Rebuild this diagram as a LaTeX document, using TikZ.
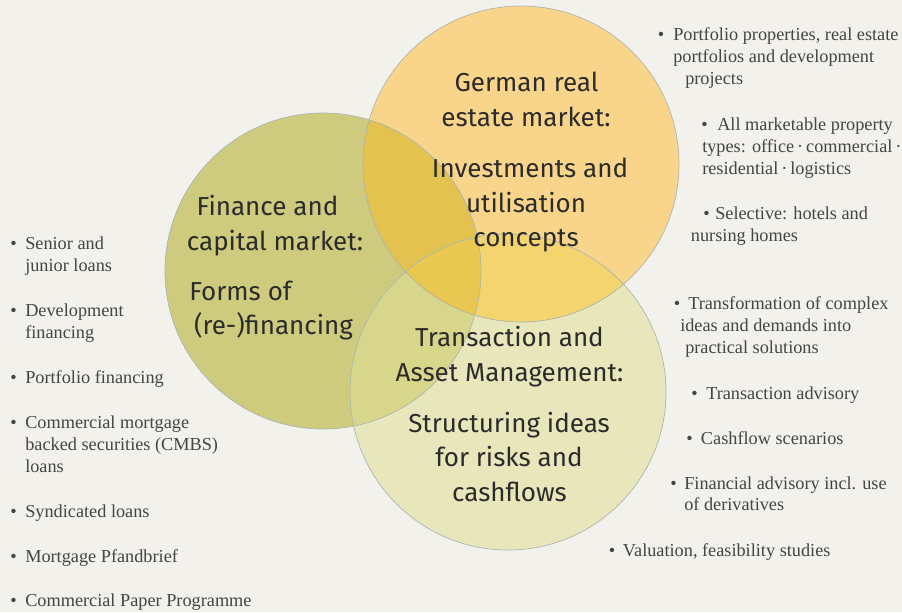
\documentclass[tikz,border=0pt]{standalone}
\usepackage{fontspec}
\setmainfont{Liberation Serif}
\newfontfamily\circfont{Fira Sans}
\definecolor{bg}{HTML}{F3F1EB}
\definecolor{cL}{HTML}{CFCB7E}
\definecolor{cT}{HTML}{F8D58A}
\definecolor{cB}{HTML}{E8E7BC}
\definecolor{cLT}{HTML}{E4C250}
\definecolor{cTB}{HTML}{F3D46E}
\definecolor{cLB}{HTML}{D8D68A}
\definecolor{cLTB}{HTML}{E8C850}
\definecolor{rim}{HTML}{A9B4B1}
\definecolor{ctext}{HTML}{2B2B2B}
\definecolor{btext}{HTML}{444444}
\newcommand{\mdotsep}{\kern2.2pt·\kern2.2pt}
\tikzset{
  ctxt/.style={inner sep=0pt, anchor=base, text=ctext, font=\circfont\fontsize{19.5pt}{23pt}\selectfont},
  btxt/.style={inner sep=0pt, anchor=base west, text=btext, font=\fontsize{13.7pt}{16.5pt}\selectfont},
  rimline/.style={draw=rim, line width=0.5pt}
}
\begin{document}
\begin{tikzpicture}[x=0.75pt,y=-0.75pt]
\fill[bg] (0,0) rectangle (902,612);
\path[use as bounding box] (0,0) rectangle (902,612);
% circles
\def\Lc{(323,271) circle[radius=158]}
\def\Tc{(521,164) circle[radius=158]}
\def\Bc{(508,392) circle[radius=158]}
\fill[cL] \Lc;
\fill[cT] \Tc;
\fill[cB] \Bc;
\begin{scope}\clip \Lc; \fill[cLT] \Tc; \end{scope}
\begin{scope}\clip \Lc; \fill[cLB] \Bc; \end{scope}
\begin{scope}\clip \Tc; \fill[cTB] \Bc; \end{scope}
\begin{scope}\clip \Lc; \clip \Tc; \fill[cLTB] \Bc; \end{scope}
\draw[rimline] \Lc;
\draw[rimline] \Tc;
\draw[rimline] \Bc;
% left circle text
\node[ctxt] (f1) at (267.5,215) {Finance and};
\node[ctxt] (f2) at (275,250) {capital market:};
\node[ctxt] (f3) at (240.5,300.5) {Forms of};
\node[ctxt] (f4) at (273.5,334) {(re-)financing};
% top circle text
\node[ctxt] (g1) at (526.5,91.5) {German real};
\node[ctxt] (g2) at (526,126) {estate market:};
\node[ctxt] (g3) at (530,177.5) {Investments and};
\node[ctxt] (g4) at (526,212.5) {utilisation};
\node[ctxt] (g5) at (526,246) {concepts};
% bottom circle text
\node[ctxt] (t1) at (509.5,346.5) {Transaction and};
\node[ctxt] (t2) at (509.5,381.5) {Asset Management:};
\node[ctxt] (t3) at (509,432.5) {Structuring ideas};
\node[ctxt] (t4) at (509,466.5) {for risks and};
\node[ctxt] (t5) at (509.5,501.5) {cashflows};
% left bullets
\node[btxt] (a1) at (10,249.3) {•};
\node[btxt] (a1a) at (25,249.3) {Senior and};
\node[btxt] (a1b) at (25,271) {junior loans};
\node[btxt] (a2) at (10,316.7) {•};
\node[btxt] (a2a) at (25,316.7) {Development};
\node[btxt] (a2b) at (25,338.3) {financing};
\node[btxt] (a3) at (10,383.3) {•};
\node[btxt] (a3a) at (25,383.3) {Portfolio financing};
\node[btxt] (a4) at (10,428.3) {•};
\node[btxt] (a4a) at (25,428.3) {Commercial mortgage};
\node[btxt] (a4b) at (25,450) {backed securities (CMBS)};
\node[btxt] (a4c) at (25,472.3) {loans};
\node[btxt] (a5) at (10,517.7) {•};
\node[btxt] (a5a) at (25,517.7) {Syndicated loans};
\node[btxt] (a6) at (10,562.7) {•};
\node[btxt] (a6a) at (25,562.7) {Mortgage Pfandbrief};
\node[btxt] (a7) at (10,606) {•};
\node[btxt] (a7a) at (25,606) {Commercial Paper Programme};
% top right bullets
\node[btxt] (b1) at (657.5,40.5) {•};
\node[btxt] (b1a) at (673,40.5) {Portfolio properties, real estate};
\node[btxt] (b1b) at (673,62.5) {portfolios and development};
\node[btxt] (b1c) at (685,84) {projects};
\node[btxt] (b2) at (701,130) {•};
\node[btxt] (b2a) at (717,130) {All marketable property};
\node[btxt] (b2b) at (702,152) {types: office\mdotsep commercial\kern2.2pt·};
\node[btxt] (b2c) at (702,174.5) {residential\mdotsep logistics};
\node[btxt] (b3) at (703,219) {•};
\node[btxt] (b3a) at (715,219) {Selective: hotels and};
\node[btxt] (b3b) at (690.7,241.5) {nursing homes};
% bottom right bullets
\node[btxt] (c1) at (673.5,309.3) {•};
\node[btxt] (c1a) at (688,309.3) {Transformation of complex};
\node[btxt] (c1b) at (680,331.7) {ideas and demands into};
\node[btxt] (c1c) at (685,353.3) {practical solutions};
\node[btxt] (c2) at (691,399.3) {•};
\node[btxt] (c2a) at (706,399.3) {Transaction advisory};
\node[btxt] (c3) at (686,444.3) {•};
\node[btxt] (c3a) at (700.7,444.3) {Cashflow scenarios};
\node[btxt] (c4) at (670,489) {•};
\node[btxt] (c4a) at (684,489) {Financial advisory incl. use};
\node[btxt] (c4b) at (684,510.7) {of derivatives};
\node[btxt] (c5) at (608.5,556.7) {•};
\node[btxt] (c5a) at (622.7,556.7) {Valuation, feasibility studies};
\end{tikzpicture}
\end{document}
